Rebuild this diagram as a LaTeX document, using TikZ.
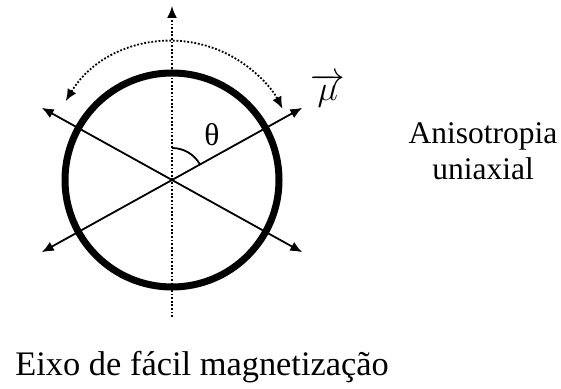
\documentclass[tikz,border=0pt]{standalone}
\usepackage{fontspec}
\setmainfont{Liberation Serif}
\usepackage{amsmath}
\usetikzlibrary{arrows.meta}

\begin{document}
\begin{tikzpicture}[x={(0.5pt,0pt)}, y={(0pt,0.5pt)},
  font=\fontsize{15.75}{18}\selectfont,
  axisline/.style={line width=0.9pt},
  dotline/.style={line width=0.9pt, dash pattern=on 0.9pt off 0.9pt},
  headtip/.tip={Latex[length=6pt,width=5pt]}]
  \useasboundingbox (0,0) rectangle (561,389);

  % Nodes
  \coordinate (O) at (172,209);
  \node[draw,circle,line width=3.5pt,minimum size=107pt,inner sep=0pt] (Ring) at (O) {};
  \coordinate (Top) at (172,383);
  \coordinate (Bot) at (172,72);
  \path (O) ++(29:149) coordinate (UpR);
  \path (O) ++(151:149) coordinate (UpL);
  \path (O) ++(209:149) coordinate (LowL);
  \path (O) ++(331:149) coordinate (LowR);
  \path (172,224) ++(149:124) coordinate (ArcL);
  \path (O) ++(90:32) coordinate (ThetaTop);

  \node (Theta) at (212,254) {θ};
  \node[anchor=base west,inner sep=0pt,font=\fontsize{18}{20}\selectfont] (Mu) at (310,288) {$\overrightarrow{\mu}$};
  \node[align=center] (Aniso) at (483,238) {Anisotropia\\uniaxial};
  \node[anchor=base west,inner sep=0pt,font=\fontsize{17.2}{20}\selectfont] (Easy) at (15,13) {Eixo de fácil magnetização};

  % Edges
  \draw[dotline,-headtip] (Bot) -- (Top);
  \draw[axisline,headtip-headtip] (LowL) -- (UpR);
  \draw[axisline,headtip-headtip] (LowR) -- (UpL);

  % Arcs
  \draw[dotline,headtip-headtip] (ArcL) arc[start angle=149,end angle=27,radius=124];
  \draw[axisline] (ThetaTop) arc[start angle=90,end angle=29,radius=32];
\end{tikzpicture}
\end{document}
